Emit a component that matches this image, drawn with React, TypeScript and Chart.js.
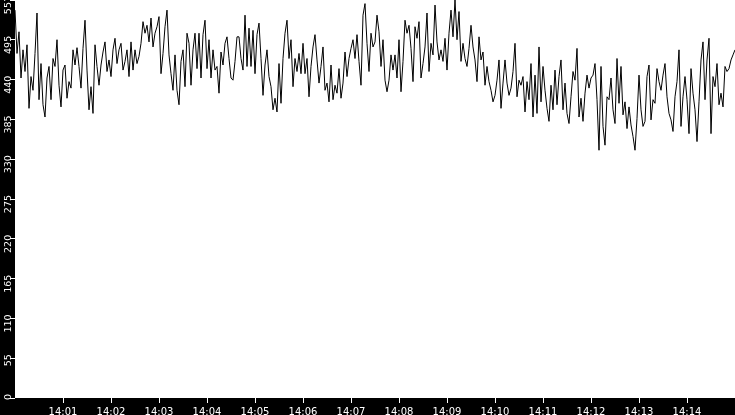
import { useEffect, useRef } from 'react';
import { Chart, registerables } from 'chart.js';

Chart.register(...registerables);

// one sample every 2.5 s, 14:00:00 -> 14:15:00
const SAMPLE_STEP = 2.5;
const SPAN_SECONDS = 900;

const samples = [
  537, 477, 507, 443, 482, 452, 489, 401, 445, 426, 477, 533, 413, 463, 406, 389, 443, 459, 413, 470,
  459, 496, 433, 403, 454, 461, 415, 438, 429, 482, 461, 485, 459, 429, 484, 523, 454, 399, 431, 394,
  489, 459, 433, 461, 479,
  493, 452, 468, 445, 482, 498, 463, 482, 491, 454, 466, 482, 445, 493, 454, 482, 463, 473, 491, 521,
  505, 516, 493, 526, 486, 505, 514, 528, 449, 477, 514, 537, 475, 449, 426, 475, 426, 406, 466, 482,
  431, 505, 491, 433, 482,
  505, 456, 505, 443, 503, 523, 456, 496, 443, 482, 454, 459, 422, 479, 461, 491, 500, 470, 443, 440,
  466, 500, 500, 470, 454, 530, 459, 512, 459, 509, 449, 503, 519, 470, 419, 461, 482, 445, 431, 399,
  415, 396, 463, 408, 470,
  505, 523, 470, 496, 431, 470, 452, 477, 449, 491, 449, 470, 417, 459, 486, 503, 468, 436, 459, 486,
  426, 436, 410, 461, 413, 433, 422, 456, 415, 436, 479, 445, 470, 484, 496, 470, 503, 466, 433, 530,
  546, 491, 452, 505, 486,
  493, 530, 507, 459, 496, 440, 424, 440, 475, 454, 475, 443, 496, 424, 466, 523, 505, 516, 484, 438,
  514, 498, 521, 443, 463, 486, 533, 452, 491, 475, 544, 493, 468, 482, 466, 498, 454, 505, 537, 500,
  551, 496, 535, 466, 491,
  470, 459, 484, 516, 486, 468, 438, 500, 468, 479, 433, 459, 438, 426, 410, 419, 440, 468, 401, 436,
  468, 436, 419, 429, 452, 491, 417, 440, 433, 445, 396, 438, 413, 463, 389, 447, 394, 486, 410, 459,
  426, 401, 383, 433, 399,
  454, 406, 445, 468, 399, 436, 394, 380, 417, 452, 440, 484, 389, 415, 383, 422, 447, 429, 443, 447,
  463, 413, 343, 459, 376, 350, 417, 413, 443, 399, 380, 470, 408, 459, 392, 410, 373, 403, 378, 362,
  343, 387, 447, 399, 376,
  383, 445, 461, 385, 413, 408, 456, 438, 426, 447, 463, 417, 394, 385, 369, 417, 438, 482, 376, 417,
  445, 413, 366, 456, 422, 399, 355, 410, 468, 493, 413, 468, 498, 366, 445, 431, 463, 406, 422, 403,
  459, 452, 456, 468, 475, 482,
];

const xTickSeconds = [60, 120, 180, 240, 300, 360, 420, 480, 540, 600, 660, 720, 780, 840];
const xTickLabels = ['14:01', '14:02', '14:03', '14:04', '14:05', '14:06', '14:07', '14:08', '14:09', '14:10', '14:11', '14:12', '14:13', '14:14'];

const yMax = 551;
const yTickValues = [0, 55.1, 110.2, 165.3, 220.4, 275.5, 330.6, 385.7, 440.8, 495.9, 551];
const yTickLabels = ['0', '55', '110', '165', '220', '275', '330', '385', '440', '495', '551'];

const FONT = 'DejaVu Sans';

// black frame, white plot area
const backgroundPlugin = {
  id: 'frameBackground',
  beforeDraw: (chart: Chart) => {
    const { ctx, chartArea } = chart;
    ctx.save();
    ctx.fillStyle = '#000';
    ctx.fillRect(0, 0, chart.width, chart.height);
    ctx.fillStyle = '#fff';
    ctx.fillRect(chartArea.left, chartArea.top, chartArea.right - chartArea.left, chartArea.bottom - chartArea.top);
    ctx.restore();
  },
};

// vertical y labels, reading bottom to top
const yLabelPlugin = {
  id: 'verticalYLabels',
  afterDraw: (chart: Chart) => {
    const { ctx } = chart;
    const scale = chart.scales.y;
    ctx.save();
    ctx.fillStyle = '#fff';
    ctx.font = `9.5px "${FONT}"`;
    ctx.textAlign = 'right';
    ctx.textBaseline = 'alphabetic';
    yTickValues.forEach((v, i) => {
      const py = scale.getPixelForValue(v);
      ctx.save();
      ctx.translate(10.5, py - 4);
      ctx.rotate(-Math.PI / 2);
      ctx.fillText(yTickLabels[i], 0, 0);
      ctx.restore();
    });
    ctx.restore();
  },
};

const App = () => {
  const chartRef = useRef<HTMLCanvasElement | null>(null);
  const chartInstance = useRef<Chart | null>(null);

  useEffect(() => {
    document.body.style.margin = '0';
    if (!chartRef.current) return;
    const ctx = chartRef.current.getContext('2d');
    if (!ctx) return;

    if (chartInstance.current) {
      chartInstance.current.destroy();
    }

    chartInstance.current = new Chart(ctx, {
      type: 'line',
      data: {
        datasets: [
          {
            data: samples.map((v, i) => ({ x: i * SAMPLE_STEP, y: v })),
            borderColor: '#000',
            borderWidth: 1,
            pointRadius: 0,
            tension: 0,
            fill: false,
          },
        ],
      },
      options: {
        animation: false,
        responsive: false,
        devicePixelRatio: 1,
        layout: { padding: 0 },
        plugins: {
          legend: { display: false },
          tooltip: { enabled: false },
        },
        scales: {
          x: {
            type: 'linear',
            min: 0,
            max: SPAN_SECONDS,
            afterBuildTicks: scale => {
              scale.ticks = xTickSeconds.map(v => ({ value: v }));
            },
            afterFit: scale => {
              scale.height = 17;
            },
            grid: { drawOnChartArea: false, color: '#fff', tickLength: 5, lineWidth: 1 },
            border: { display: false },
            ticks: {
              color: '#fff',
              font: { family: FONT, size: 10 },
              padding: 3,
              maxRotation: 0,
              autoSkip: false,
              callback: (_v, index) => xTickLabels[index],
            },
          },
          y: {
            type: 'linear',
            min: 0,
            max: yMax,
            afterBuildTicks: scale => {
              scale.ticks = yTickValues.map(v => ({ value: v }));
            },
            afterFit: scale => {
              scale.width = 15;
            },
            grid: { drawOnChartArea: false, color: '#fff', tickLength: 5, lineWidth: 1 },
            border: { display: false },
            ticks: { display: false },
          },
        },
      },
      plugins: [backgroundPlugin, yLabelPlugin],
    });

    return () => {
      if (chartInstance.current) {
        chartInstance.current.destroy();
        chartInstance.current = null;
      }
    };
  }, []);

  return (
    <div style={{ width: 735, height: 415, background: '#000' }}>
      <canvas ref={chartRef} width={735} height={415} style={{ display: 'block' }}></canvas>
    </div>
  );
};

export default App;
